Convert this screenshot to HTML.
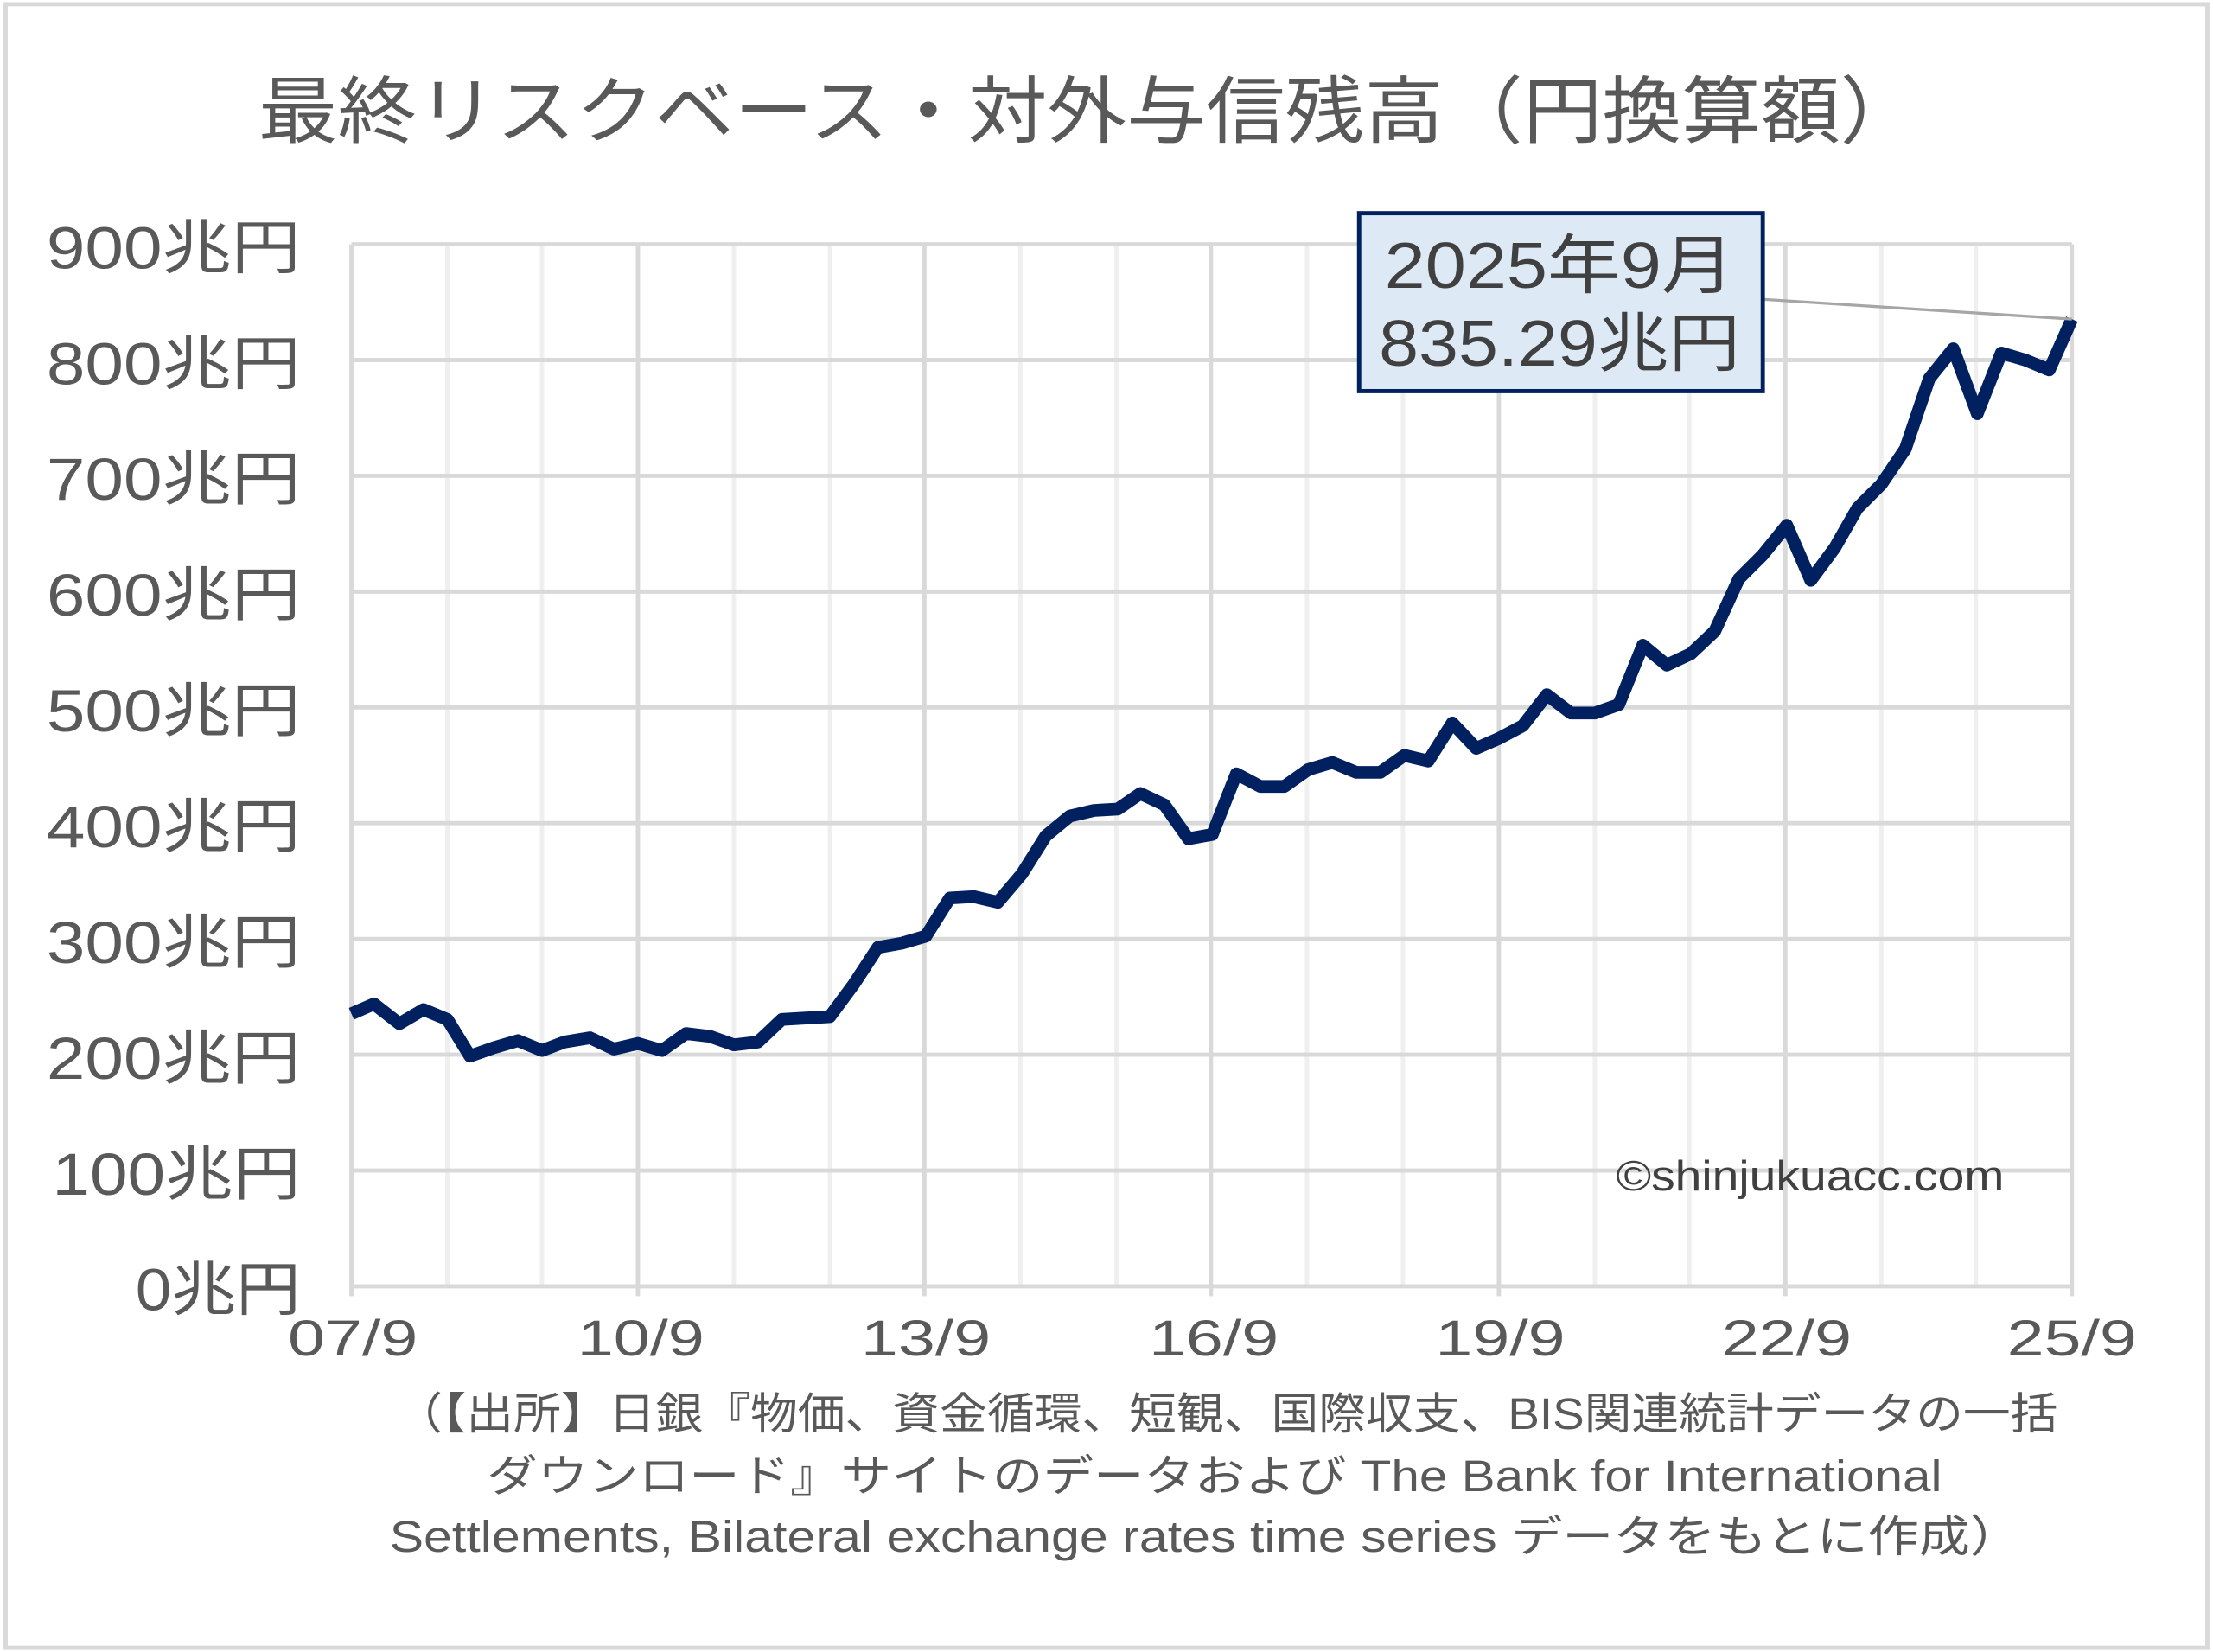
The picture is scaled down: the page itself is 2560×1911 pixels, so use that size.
<!DOCTYPE html>
<html><head><meta charset="utf-8"><style>
html,body{margin:0;padding:0;background:#fff;}
svg{display:block;}
text{font-family:"Liberation Sans","Noto Sans CJK JP",sans-serif;}
</style></head><body>
<svg width="2560" height="1911" viewBox="0 0 1568 1170" preserveAspectRatio="none" xmlns="http://www.w3.org/2000/svg">
<rect x="0" y="0" width="1568" height="1170" fill="#fff"/>
<rect x="4" y="3" width="1560" height="1164" fill="none" stroke="#d9d9d9" stroke-width="3"/>
<text x="183" y="97" font-size="52" fill="#595959" textLength="1177" lengthAdjust="spacingAndGlyphs">最終リスクベース・対外与信残高（円換算額）</text>
<g stroke="#efefef" stroke-width="3">
<line x1="317" y1="173" x2="317" y2="911"/><line x1="384" y1="173" x2="384" y2="911"/>
<line x1="520" y1="173" x2="520" y2="911"/><line x1="588" y1="173" x2="588" y2="911"/>
<line x1="723" y1="173" x2="723" y2="911"/><line x1="791" y1="173" x2="791" y2="911"/>
<line x1="926" y1="173" x2="926" y2="911"/><line x1="994" y1="173" x2="994" y2="911"/>
<line x1="1130" y1="173" x2="1130" y2="911"/><line x1="1197" y1="173" x2="1197" y2="911"/>
<line x1="1333" y1="173" x2="1333" y2="911"/><line x1="1400" y1="173" x2="1400" y2="911"/>
</g>
<g stroke="#d9d9d9" stroke-width="3">
<line x1="249" y1="173" x2="1468" y2="173"/><line x1="249" y1="255" x2="1468" y2="255"/>
<line x1="249" y1="337" x2="1468" y2="337"/><line x1="249" y1="419" x2="1468" y2="419"/>
<line x1="249" y1="501" x2="1468" y2="501"/><line x1="249" y1="583" x2="1468" y2="583"/>
<line x1="249" y1="665" x2="1468" y2="665"/><line x1="249" y1="747" x2="1468" y2="747"/>
<line x1="249" y1="829" x2="1468" y2="829"/><line x1="249" y1="911" x2="1468" y2="911"/>
<line x1="249" y1="173" x2="249" y2="918"/><line x1="452" y1="173" x2="452" y2="918"/>
<line x1="655" y1="173" x2="655" y2="918"/><line x1="858" y1="173" x2="858" y2="918"/>
<line x1="1062" y1="173" x2="1062" y2="918"/><line x1="1265" y1="173" x2="1265" y2="918"/>
<line x1="1468" y1="173" x2="1468" y2="918"/>
</g>
<g font-size="42" fill="#595959">
<text x="33" y="190" textLength="180" lengthAdjust="spacingAndGlyphs">900兆円</text>
<text x="33" y="272" textLength="180" lengthAdjust="spacingAndGlyphs">800兆円</text>
<text x="33" y="354" textLength="180" lengthAdjust="spacingAndGlyphs">700兆円</text>
<text x="33" y="436" textLength="180" lengthAdjust="spacingAndGlyphs">600兆円</text>
<text x="33" y="518" textLength="180" lengthAdjust="spacingAndGlyphs">500兆円</text>
<text x="33" y="600" textLength="180" lengthAdjust="spacingAndGlyphs">400兆円</text>
<text x="33" y="682" textLength="180" lengthAdjust="spacingAndGlyphs">300兆円</text>
<text x="33" y="764" textLength="180" lengthAdjust="spacingAndGlyphs">200兆円</text>
<text x="37" y="846" textLength="176" lengthAdjust="spacingAndGlyphs">100兆円</text>
<text x="96" y="928" textLength="117" lengthAdjust="spacingAndGlyphs">0兆円</text>
</g>
<g font-size="36" fill="#595959">
<text x="204" y="960" textLength="92" lengthAdjust="spacingAndGlyphs">07/9</text>
<text x="409" y="960" textLength="90" lengthAdjust="spacingAndGlyphs">10/9</text>
<text x="610" y="960" textLength="92" lengthAdjust="spacingAndGlyphs">13/9</text>
<text x="814" y="960" textLength="92" lengthAdjust="spacingAndGlyphs">16/9</text>
<text x="1017" y="960" textLength="92" lengthAdjust="spacingAndGlyphs">19/9</text>
<text x="1220" y="960" textLength="92" lengthAdjust="spacingAndGlyphs">22/9</text>
<text x="1422" y="960" textLength="92" lengthAdjust="spacingAndGlyphs">25/9</text>
</g>
<polyline fill="none" stroke="#002060" stroke-width="9" stroke-linejoin="round" points="249,718 265,711 283,725 300,715 317,722 333,748 350,742 367,737 384,744 400,738 418,735 435,743 452,739 469,744 486,732 503,734 520,740 537,738 554,722 571,721 588,720 605,697 622,671 639,668 656,663 673,636 690,635 707,639 724,619 741,592 758,578 775,574 792,573 808,562 825,570 842,594 859,591 876,548 893,557 910,557 927,545 944,540 961,547 978,547 995,535 1012,539 1029,512 1046,530 1062,523 1079,514 1096,492 1113,505 1130,505 1147,499 1164,457 1181,471 1198,463 1215,447 1232,410 1249,393 1266,372 1283,411 1300,388 1316,360 1333,343 1350,318 1367,268 1384,247 1401,293 1418,250 1435,255 1452,262 1468,226"/>
<line x1="1249" y1="212" x2="1468" y2="226" stroke="#a6a6a6" stroke-width="2"/>
<rect x="963" y="151" width="286" height="126" fill="#dde9f5" stroke="#002060" stroke-width="3"/>
<text x="981" y="204" font-size="46" fill="#404040" textLength="248" lengthAdjust="spacingAndGlyphs">2025年9月</text>
<text x="977" y="259" font-size="46" fill="#404040" textLength="256" lengthAdjust="spacingAndGlyphs">835.29兆円</text>
<text x="1145" y="843" font-size="30" fill="#404040" textLength="275" lengthAdjust="spacingAndGlyphs">©shinjukuacc.com</text>
<g font-size="31" fill="#595959">
<text x="280" y="1012" textLength="1178" lengthAdjust="spacingAndGlyphs">（【出所】日銀『物価、資金循環、短観、国際収支、BIS関連統計データの一括</text>
<text x="345" y="1056" textLength="1031" lengthAdjust="spacingAndGlyphs">ダウンロード』サイトのデータおよび The Bank for International</text>
<text x="276" y="1099" textLength="1156" lengthAdjust="spacingAndGlyphs">Settlements, Bilateral exchange rates time series  データをもとに作成）</text>
</g>
</svg>
</body></html>
